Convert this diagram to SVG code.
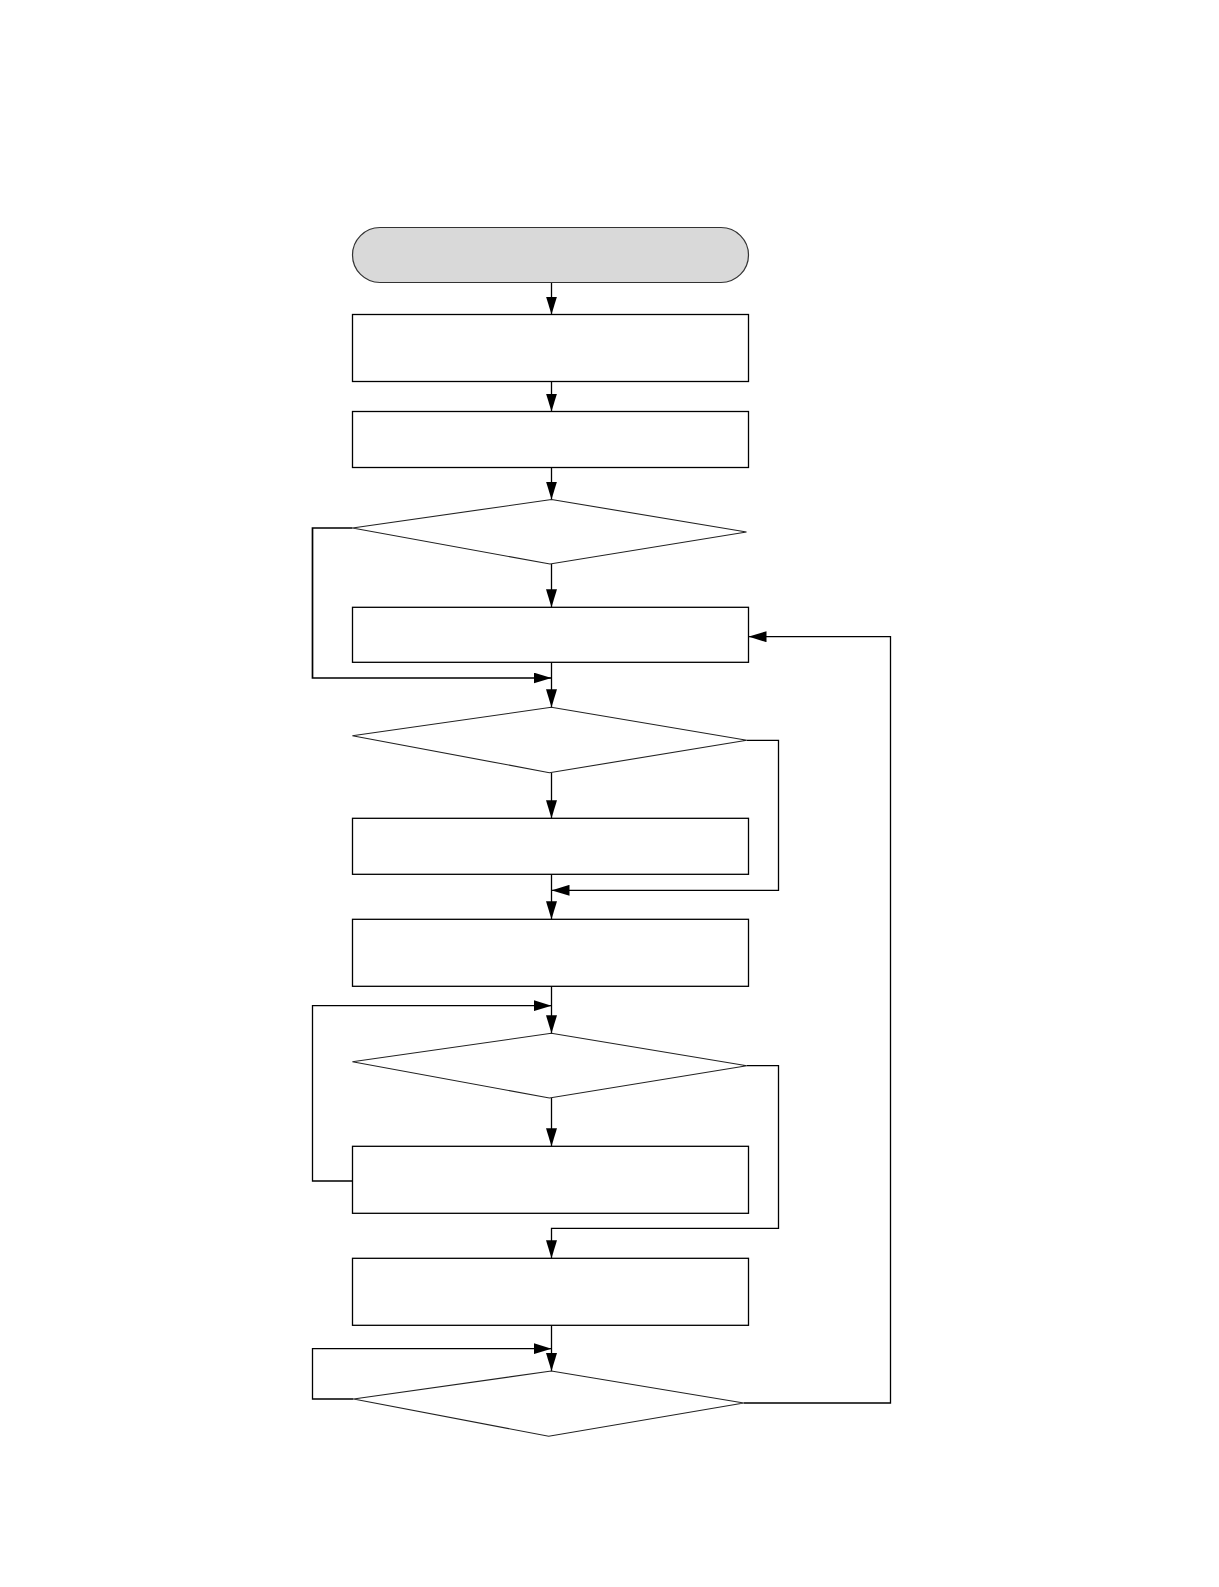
<svg xmlns="http://www.w3.org/2000/svg" width="1219" height="1587" viewBox="0 0 1219 1587">
<style>
.box{fill:#fff;stroke:#000;stroke-width:1.3}
.term{fill:#d9d9d9;stroke:#333;stroke-width:1.2}
.dia{fill:#fff;stroke:#222;stroke-width:1.1}
.con{fill:none;stroke:#000;stroke-width:1.3;marker-end:url(#ah)}
.con2{fill:none;stroke:#000;stroke-width:1.3}
</style>
<defs>
<marker id="ah" markerUnits="userSpaceOnUse" markerWidth="18" markerHeight="11" refX="18" refY="5.5" orient="auto">
<path d="M0,0 L18,5.5 L0,11 z" fill="#000"/>
</marker>
</defs>
<rect width="1219" height="1587" fill="#fff"/>
<g id="connectors">
<path class="con" d="M551.5,282.5 V314.5"/>
<path class="con" d="M551.5,381.5 V411.5"/>
<path class="con" d="M551.5,467.5 V499.5"/>
<path class="con" d="M551.5,564 V607.3"/>
<path class="con" style="stroke-width:1.7" d="M352.5,528 H312.5 V678 H551.5"/>
<path class="con" d="M551.5,662.3 V707.3"/>
<path class="con" d="M551.5,772.7 V818.3"/>
<path class="con" d="M746.8,740.3 H778.5 V890.3 H551.5"/>
<path class="con" d="M551.5,874.3 V919.3"/>
<path class="con" d="M551.5,986.3 V1033.3"/>
<path class="con" d="M551.5,1098 V1146.3"/>
<path class="con" d="M352.5,1181 H312.5 V1005.7 H551.5"/>
<path class="con" d="M746.8,1065.7 H778.5 V1228.3 H551.5 V1258.3"/>
<path class="con" d="M551.5,1325.3 V1371"/>
<path class="con" d="M353.5,1399 H312.5 V1348.7 H551.5"/>
<path class="con" d="M743.8,1403 H890.5 V636.7 H748.5"/>
</g>
<g id="start"><rect class="term" x="352.5" y="227.5" width="396" height="55" rx="27.5" ry="27.5"/></g>
<g id="box1"><rect class="box" x="352.5" y="314.5" width="396" height="67"/></g>
<g id="box2"><rect class="box" x="352.5" y="411.5" width="396" height="56"/></g>
<g id="decision1"><polygon class="dia" points="551.5,499.5 746.5,532 550,564 352.5,528"/></g>
<g id="box3"><rect class="box" x="352.5" y="607.3" width="396" height="55"/></g>
<g id="decision2"><polygon class="dia" points="551.3,707.3 746.8,740.3 549.4,772.7 352.4,735.7"/></g>
<g id="box4"><rect class="box" x="352.5" y="818.3" width="396" height="56"/></g>
<g id="box5"><rect class="box" x="352.5" y="919.3" width="396" height="67"/></g>
<g id="decision3"><polygon class="dia" points="551.3,1033.3 746.8,1065.7 549.4,1098 352.4,1061.7"/></g>
<g id="box6"><rect class="box" x="352.5" y="1146.3" width="396" height="67"/></g>
<g id="box7"><rect class="box" x="352.5" y="1258.3" width="396" height="67"/></g>
<g id="decision4"><polygon class="dia" points="551.3,1371 743.8,1403 548.7,1436.3 353.6,1399"/></g>
</svg>
